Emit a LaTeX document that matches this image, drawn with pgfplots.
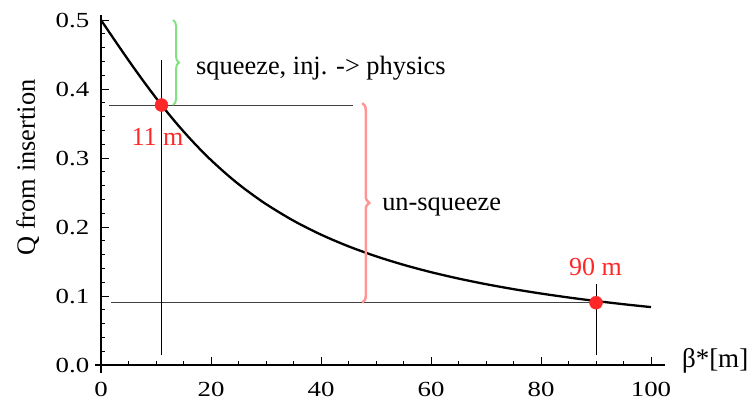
\documentclass[border=0pt]{standalone}
\usepackage{fontspec}
\setmainfont{Liberation Serif}
\newfontfamily\tickfont[FakeStretch=1.25]{Liberation Serif}
\usepackage{pgfplots}
\pgfplotsset{compat=1.18}
\usetikzlibrary{decorations.pathreplacing}
\definecolor{dotred}{RGB}{255,40,40}
\definecolor{brgreen}{RGB}{130,225,130}
\definecolor{brpink}{RGB}{255,150,150}
\begin{document}
\begin{tikzpicture}
\begin{axis}[
  at={(0,0)}, anchor=south west,
  scale only axis, width=569.8pt, height=358.1pt,
  xmin=-1, xmax=102.6, ymin=-0.012, ymax=0.507,
  axis lines=middle, axis line style={-, line width=1.8pt},
  hide obscured x ticks=false, hide obscured y ticks=false,
  xtick={0,20,40,60,80,100}, minor x tick num=3,
  ytick={0,0.1,0.2,0.3,0.4,0.5}, minor y tick num=4,
  tick align=inside, major tick length=8pt, minor tick length=4.5pt,
  every tick/.style={black, line width=1pt},
  tick label style={font=\tickfont\fontsize{21.5}{26}\selectfont, inner sep=0pt},
  /pgf/number format/assume math mode=true,
  xticklabel style={anchor=base, yshift=-31.5pt},
  yticklabel style={anchor=east, xshift=-11.5pt,
    /pgf/number format/fixed, /pgf/number format/fixed zerofill, /pgf/number format/precision=1},
  clip=false,
]
\addplot[black!75, line width=1pt] coordinates {(1.5,0.3768) (45.8,0.3768)};
\addplot[black!75, line width=1pt] coordinates {(1.8,0.0903) (93.6,0.0903)};
\addplot[black, line width=1pt] coordinates {(11,0.0145) (11,0.442)};
\addplot[black, line width=1pt] coordinates {(90,0.0145) (90,0.117)};
\addplot[black, line width=2.3pt, smooth] coordinates {
(0,0.5) (1,0.48822) (2,0.47646) (3,0.46477) (4,0.45318) (5,0.44171) (6,0.43039)
(8,0.40832) (10,0.38710) (12,0.36688) (14,0.34770) (16,0.32972) (18,0.31283)
(20,0.29703) (23,0.27541) (26,0.25600) (30,0.23326) (35,0.20915) (40,0.18900)
(45,0.17202) (50,0.15761) (55,0.14526) (60,0.13460) (65,0.12532) (70,0.11718)
(75,0.10999) (80,0.10361) (85,0.09790) (90,0.09277) (95,0.08814) (100,0.08394)};
\addplot[only marks, mark=*, mark size=6.5pt, mark options={draw=dotred, fill=dotred}]
  coordinates {(11,0.3768) (90,0.0903)};
\draw[brgreen, line width=2pt, decorate, decoration={brace, amplitude=6pt}]
  (axis cs:13.1,0.5) -- (axis cs:13.1,0.3768);
\draw[brpink, line width=2.5pt, decorate, decoration={brace, amplitude=7pt}]
  (axis cs:47.5,0.3797) -- (axis cs:47.5,0.0903);
\node[anchor=base west, inner sep=0pt, font=\fontsize{26.4}{31}\selectfont] at (axis cs:17.27,0.4217) {squeeze, inj. -> physics};
\node[anchor=base west, inner sep=0pt, font=\fontsize{26.4}{31}\selectfont] at (axis cs:51.1,0.2246) {un-squeeze};
\node[anchor=base, inner sep=0pt, text=dotred, font=\fontsize{26}{31}\selectfont] at (axis cs:10.27,0.3188) {11 m};
\node[anchor=base, inner sep=0pt, text=dotred, font=\fontsize{26}{31}\selectfont] at (axis cs:89.9,0.1304) {90 m};
\node[anchor=base west, inner sep=0pt, font=\fontsize{27}{32}\selectfont] at (axis cs:105.6,-0.003) {β*[m]};
\node[anchor=base, rotate=90, inner sep=0pt, font=\fontsize{26.4}{31}\selectfont] at (axis cs:-12,0.2862) {Q from insertion};
\end{axis}
\pgfresetboundingbox
\useasboundingbox (-95.5pt,-26.7pt) rectangle (655.5pt,373.3pt);
\end{tikzpicture}
\end{document}
